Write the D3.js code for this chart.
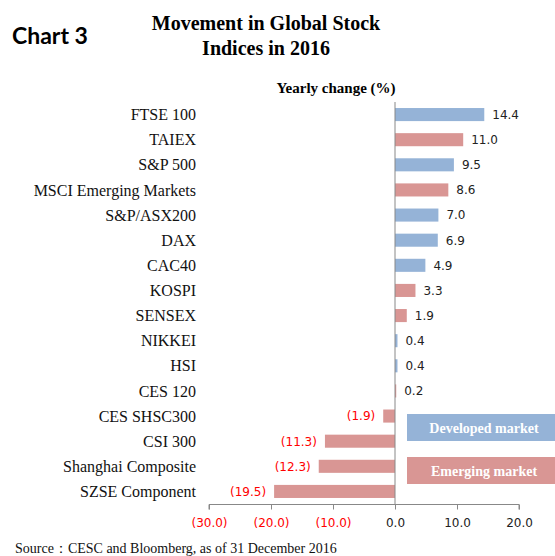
<!DOCTYPE html>
<html><head><meta charset="utf-8">
<script src="https://cdn.jsdelivr.net/npm/d3@7"></script>
<style>body{margin:0;background:#fff}</style>
</head><body>
<svg id="c" width="555" height="556"></svg>
<script>
const categories = ["FTSE 100","TAIEX","S&P 500","MSCI Emerging Markets","S&P/ASX200","DAX","CAC40","KOSPI","SENSEX","NIKKEI","HSI","CES 120","CES SHSC300","CSI 300","Shanghai Composite","SZSE Component"];
const values = [14.4,11.0,9.5,8.6,7.0,6.9,4.9,3.3,1.9,0.4,0.4,0.2,-1.9,-11.3,-12.3,-19.5];
const groups = ["D","E","D","E","D","D","D","E","E","D","D","E","E","E","E","E"];
const tickValues = [-30,-20,-10,0,10,20];
const legendItems = [{key:"D",label:"Developed market"},{key:"E",label:"Emerging market"}];

const color = {D:"#95B3D7", E:"#D99694"};
const svg = d3.select("#c");
const x = d3.scaleLinear().domain([-30,20]).range([209,519]);
const y = d3.scaleBand().domain(categories).range([102,504]).paddingInner(0.48).paddingOuter(0.24);
const fmt = v => v < 0 ? "(" + Math.abs(v).toFixed(1) + ")" : v.toFixed(1);

// Titles
svg.append("text").attr("x",12).attr("y",44).attr("font-family","Lato, 'Open Sans', sans-serif").attr("font-weight","bold").attr("font-size",23).attr("fill","#000").text("Chart 3");
svg.append("text").attr("x",266).attr("y",30).attr("text-anchor","middle").attr("font-family","'Liberation Serif', serif").attr("font-weight","bold").attr("font-size",20).text("Movement in Global Stock");
svg.append("text").attr("x",266).attr("y",55).attr("text-anchor","middle").attr("font-family","'Liberation Serif', serif").attr("font-weight","bold").attr("font-size",20).text("Indices in 2016");
svg.append("text").attr("x",336).attr("y",93).attr("text-anchor","middle").attr("font-family","'Liberation Serif', serif").attr("font-weight","bold").attr("font-size",15).text("Yearly change (%)");

// bars
svg.append("g").selectAll("rect").data(categories).join("rect")
  .attr("x",(d,i)=>x(Math.min(0,values[i])))
  .attr("width",(d,i)=>Math.abs(x(values[i])-x(0)))
  .attr("y",d=>y(d)).attr("height",y.bandwidth())
  .attr("fill",(d,i)=>color[groups[i]]);

// value labels
svg.append("g").selectAll("text").data(categories).join("text")
  .attr("x",(d,i)=>values[i]<0 ? x(values[i])-8 : x(values[i])+8)
  .attr("y",d=>y(d)+y.bandwidth()/2).attr("dy","0.36em")
  .attr("text-anchor",(d,i)=>values[i]<0?"end":"start")
  .attr("font-family","'DejaVu Sans', sans-serif").attr("font-size",12)
  .attr("fill",(d,i)=>values[i]<0?"#FF0000":"#222")
  .text((d,i)=>fmt(values[i]));

// category labels
svg.append("g").selectAll("text").data(categories).join("text")
  .attr("x",196).attr("y",d=>y(d)+y.bandwidth()/2).attr("dy","0.35em")
  .attr("text-anchor","end").attr("font-family","'Liberation Serif', serif").attr("font-size",16).attr("fill","#111")
  .text(d=>d);

// y axis line
svg.append("line").attr("x1",x(0)).attr("x2",x(0)).attr("y1",102).attr("y2",504).attr("stroke","#888").attr("stroke-width",1);

// x axis
const xAxis = d3.axisBottom(x).tickValues(tickValues).tickSize(5).tickFormat(fmt);
const gx = svg.append("g").attr("transform","translate(0,504.5)").call(xAxis);
gx.select(".domain").attr("stroke","#888").attr("d","M"+x(-30)+",5V0H"+x(20)+"V5");
gx.selectAll(".tick line").attr("stroke","#888");
gx.selectAll(".tick text").attr("y",14).attr("font-family","'DejaVu Sans', sans-serif").attr("font-size",12)
  .attr("fill",d=>d<0?"#FF0000":"#222");

// legend
const lg = svg.append("g").selectAll("g").data(legendItems).join("g")
  .attr("transform",(d,i)=>`translate(407,${414+i*43})`);
lg.append("rect").attr("width",150).attr("height",27).attr("fill",d=>color[d.key]);
lg.append("text").attr("x",77).attr("y",14).attr("dy","0.35em").attr("text-anchor","middle")
  .attr("font-family","'Liberation Serif', serif").attr("font-weight","bold").attr("font-size",14).attr("fill","#fff").text(d=>d.label);

// source
svg.append("text").attr("x",15).attr("y",553).attr("font-family","'Liberation Serif', serif").attr("font-size",14).attr("fill","#111").text("Source：CESC and Bloomberg, as of 31 December 2016");
</script>
</body></html>
